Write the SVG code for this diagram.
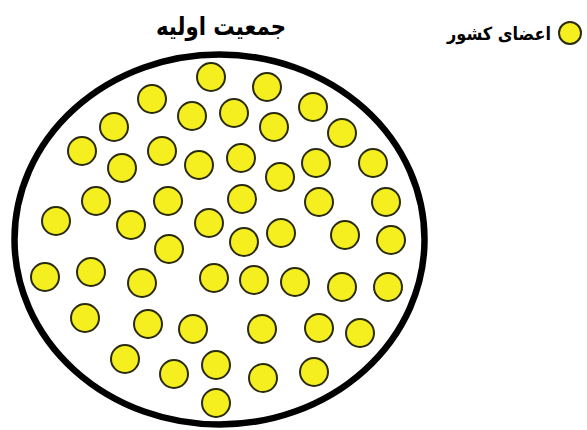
<svg xmlns="http://www.w3.org/2000/svg" width="587" height="430" viewBox="0 0 587 430">
<style>
.m{fill:#f5ef1f;stroke:#2a2a0c;stroke-width:2}
.pop{fill:#fff;stroke:#000;stroke-width:6.5}
.t{font-family:"DejaVu Sans",sans-serif;font-weight:bold;fill:#000}
</style>
<rect width="587" height="430" fill="#fff"/>
<g id="connectors"></g>
<g id="title"><text class="t" x="221" y="35" font-size="25" text-anchor="middle" direction="rtl" textLength="130" lengthAdjust="spacingAndGlyphs">جمعیت اولیه</text></g>
<g id="legend">
<circle class="m" cx="570" cy="33" r="11"/>
<text class="t" x="499" y="40" font-size="18" text-anchor="middle" direction="rtl" textLength="104" lengthAdjust="spacingAndGlyphs">اعضای کشور</text>
</g>
<g id="population">
<ellipse class="pop" cx="219.5" cy="239.5" rx="205" ry="185"/>
</g>
<g id="members">
<g id="m1"><circle class="m" cx="211" cy="77" r="14"/></g>
<g id="m2"><circle class="m" cx="267" cy="87" r="14"/></g>
<g id="m3"><circle class="m" cx="152" cy="99" r="14"/></g>
<g id="m4"><circle class="m" cx="192" cy="116" r="14"/></g>
<g id="m5"><circle class="m" cx="234" cy="113" r="14"/></g>
<g id="m6"><circle class="m" cx="313" cy="107" r="14"/></g>
<g id="m7"><circle class="m" cx="114" cy="127" r="14"/></g>
<g id="m8"><circle class="m" cx="274" cy="127" r="14"/></g>
<g id="m9"><circle class="m" cx="342" cy="133" r="14"/></g>
<g id="m10"><circle class="m" cx="82" cy="151" r="14"/></g>
<g id="m11"><circle class="m" cx="162" cy="151" r="14"/></g>
<g id="m12"><circle class="m" cx="241" cy="158" r="14"/></g>
<g id="m13"><circle class="m" cx="122" cy="168" r="14"/></g>
<g id="m14"><circle class="m" cx="199" cy="165" r="14"/></g>
<g id="m15"><circle class="m" cx="316" cy="163" r="14"/></g>
<g id="m16"><circle class="m" cx="373" cy="163" r="14"/></g>
<g id="m17"><circle class="m" cx="280" cy="177" r="14"/></g>
<g id="m18"><circle class="m" cx="96" cy="201" r="14"/></g>
<g id="m19"><circle class="m" cx="168" cy="201" r="14"/></g>
<g id="m20"><circle class="m" cx="242" cy="199" r="14"/></g>
<g id="m21"><circle class="m" cx="319" cy="202" r="14"/></g>
<g id="m22"><circle class="m" cx="386" cy="202" r="14"/></g>
<g id="m23"><circle class="m" cx="56" cy="221" r="14"/></g>
<g id="m24"><circle class="m" cx="131" cy="225" r="14"/></g>
<g id="m25"><circle class="m" cx="209" cy="223" r="14"/></g>
<g id="m26"><circle class="m" cx="281" cy="233" r="14"/></g>
<g id="m27"><circle class="m" cx="345" cy="235" r="14"/></g>
<g id="m28"><circle class="m" cx="391" cy="240" r="14"/></g>
<g id="m29"><circle class="m" cx="169" cy="249" r="14"/></g>
<g id="m30"><circle class="m" cx="244" cy="242" r="14"/></g>
<g id="m31"><circle class="m" cx="45" cy="277" r="14"/></g>
<g id="m32"><circle class="m" cx="91" cy="272" r="14"/></g>
<g id="m33"><circle class="m" cx="142" cy="283" r="14"/></g>
<g id="m34"><circle class="m" cx="214" cy="278" r="14"/></g>
<g id="m35"><circle class="m" cx="254" cy="280" r="14"/></g>
<g id="m36"><circle class="m" cx="295" cy="282" r="14"/></g>
<g id="m37"><circle class="m" cx="342" cy="287" r="14"/></g>
<g id="m38"><circle class="m" cx="388" cy="287" r="14"/></g>
<g id="m39"><circle class="m" cx="85" cy="318" r="14"/></g>
<g id="m40"><circle class="m" cx="148" cy="324" r="14"/></g>
<g id="m41"><circle class="m" cx="193" cy="329" r="14"/></g>
<g id="m42"><circle class="m" cx="262" cy="329" r="14"/></g>
<g id="m43"><circle class="m" cx="319" cy="328" r="14"/></g>
<g id="m44"><circle class="m" cx="360" cy="333" r="14"/></g>
<g id="m45"><circle class="m" cx="125" cy="359" r="14"/></g>
<g id="m46"><circle class="m" cx="174" cy="374" r="14"/></g>
<g id="m47"><circle class="m" cx="216" cy="365" r="14"/></g>
<g id="m48"><circle class="m" cx="263" cy="378" r="14"/></g>
<g id="m49"><circle class="m" cx="314" cy="372" r="14"/></g>
<g id="m50"><circle class="m" cx="216" cy="403" r="14"/></g>
</g>
</svg>
